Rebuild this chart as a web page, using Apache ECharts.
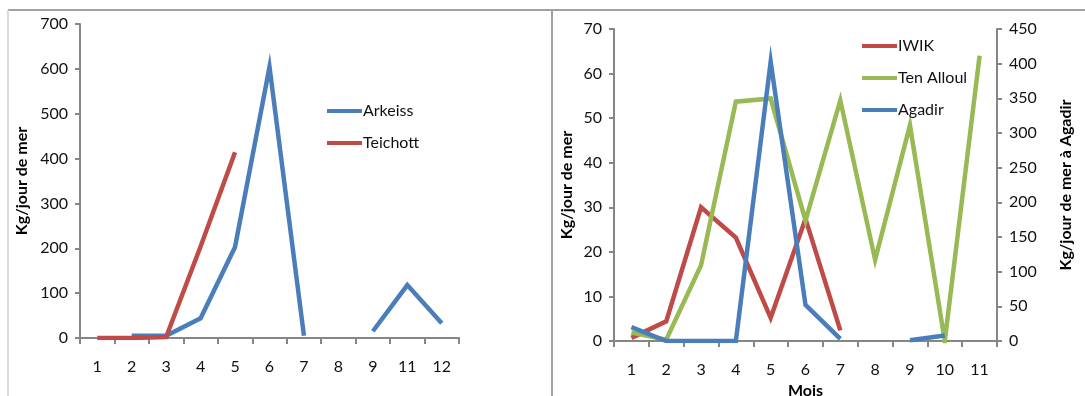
<!DOCTYPE html>
<html>
<head>
<meta charset="utf-8">
<script src="https://cdn.jsdelivr.net/npm/echarts@6/dist/echarts.min.js"></script>
<style>
html,body{margin:0;padding:0;background:#fff;}
#c{width:1085px;height:396px;}
</style>
</head>
<body>
<div id="c"></div>
<script>
// Left chart
const leftMonths = ['1','2','3','4','5','6','7','8','9','11','12'];
const arkeiss  = [null, 5, 5, 44, 203, 604, 5, null, 15, 118, 33];
const teichott = [0, 0, 2, 204, 414, null, null, null, null, null, null];
const leftTicks = {min: 0, max: 700, interval: 100};

// Right chart
const rightMonths = ['1','2','3','4','5','6','7','8','9','10','11'];
const iwik      = [0.7, 4.4, 30, 23.2, 5.2, 27.4, 2.4, null, null, null, null];
const tenAlloul = [1.9, 0.3, 17, 53.7, 54.4, 27, 54, 18.2, 48.4, 0, 64];
const agadir    = [20, 0, 0, 0, 403, 52, 3, null, 1, 8, null];
const rightLeftTicks = {min: 0, max: 70, interval: 10};
const rightRightTicks = {min: 0, max: 450, interval: 50};

const BLUE = '#4A7EBB', RED = '#BE4B48', GREEN = '#98B954';
const AXIS = '#868686';
const FONT = 'Lato';
const FS = 16;

function yAx(t, gridIndex, extra) {
  return Object.assign({
    type: 'value', gridIndex: gridIndex, min: t.min, max: t.max, interval: t.interval,
    axisLine: {show: true, lineStyle: {color: AXIS, width: 2}},
    axisTick: {show: true, length: 5, lineStyle: {color: AXIS, width: 2}},
    splitLine: {show: false},
    axisLabel: {color: '#111', fontFamily: FONT, fontSize: FS, margin: 12},
    nameLocation: 'middle', nameRotate: 90,
    nameTextStyle: {color: '#000', fontFamily: FONT, fontSize: FS, fontWeight: 'bold'}
  }, extra);
}
function xAx(cats, gridIndex, extra) {
  return Object.assign({
    type: 'category', gridIndex: gridIndex, data: cats, boundaryGap: true,
    axisLine: {show: true, lineStyle: {color: AXIS, width: 2}},
    axisTick: {show: true, length: 6, interval: 0, lineStyle: {color: AXIS, width: 2}},
    axisLabel: {color: '#111', fontFamily: FONT, fontSize: FS, margin: 21, interval: 0},
    nameLocation: 'middle',
    nameTextStyle: {color: '#000', fontFamily: FONT, fontSize: FS, fontWeight: 'bold'}
  }, extra);
}
function line(name, data, color, xi, yi) {
  return {
    name: name, type: 'line', data: data, xAxisIndex: xi, yAxisIndex: yi,
    symbol: 'none', showSymbol: false, connectNulls: false,
    lineStyle: {color: color, width: 4.5, cap: 'butt', join: 'miter'},
    itemStyle: {color: color}, animation: false
  };
}

const chart = echarts.init(document.getElementById('c'), null, {renderer: 'canvas'});
chart.setOption({
  animation: false,
  backgroundColor: '#fff',
  grid: [
    {left: 80, right: 626, top: 24, bottom: 58, outerBoundsMode: 'none', containLabel: false},
    {left: 614, right: 88, top: 29, bottom: 55, outerBoundsMode: 'none', containLabel: false}
  ],
  xAxis: [
    xAx(leftMonths, 0),
    xAx(rightMonths, 1, {name: 'Mois', nameGap: 39})
  ],
  yAxis: [
    yAx(leftTicks, 0, {name: 'Kg/jour de mer', nameGap: 50}),
    yAx(rightLeftTicks, 1, {name: 'Kg/jour de mer', nameGap: 39}),
    yAx(rightRightTicks, 1, {position: 'right', name: 'Kg/jour de mer à Agadir', nameGap: 61})
  ],
  legend: [
    {
      data: ['Arkeiss', 'Teichott'], orient: 'vertical', left: 322, top: 98,
      icon: 'rect', itemWidth: 35, itemHeight: 4, itemGap: 16,
      textStyle: {color: '#111', fontFamily: FONT, fontSize: FS, padding: [0, 0, 0, -4]}
    },
    {
      data: ['IWIK', 'Ten Alloul', 'Agadir'], orient: 'vertical', left: 857, top: 33,
      icon: 'rect', itemWidth: 35, itemHeight: 4, itemGap: 16,
      textStyle: {color: '#111', fontFamily: FONT, fontSize: FS, padding: [0, 0, 0, -4]}
    }
  ],
  graphic: [
    {type: 'line', shape: {x1: 8, y1: 10, x2: 1085, y2: 10}, style: {stroke: '#a2a2a2', lineWidth: 2}},
    {type: 'line', shape: {x1: 8, y1: 10, x2: 8, y2: 396}, style: {stroke: '#d4d9e2', lineWidth: 2}},
    {type: 'line', shape: {x1: 552, y1: 10, x2: 552, y2: 396}, style: {stroke: '#a2a2a2', lineWidth: 2}}
  ],
  series: [
    line('Arkeiss', arkeiss, BLUE, 0, 0),
    line('Teichott', teichott, RED, 0, 0),
    line('IWIK', iwik, RED, 1, 1),
    line('Ten Alloul', tenAlloul, GREEN, 1, 1),
    line('Agadir', agadir, BLUE, 1, 2)
  ]
});
</script>
</body>
</html>
